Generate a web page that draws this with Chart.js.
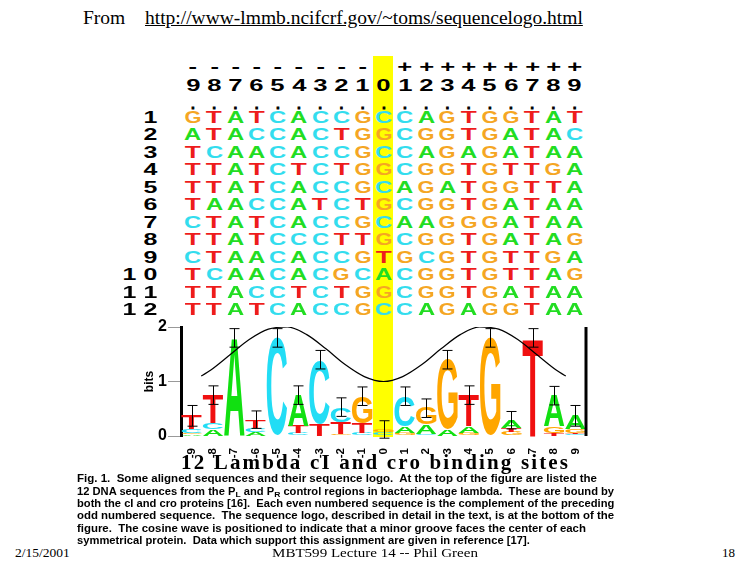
<!DOCTYPE html>
<html>
<head>
<meta charset="utf-8">
<script src="https://cdn.jsdelivr.net/npm/chart.js"></script>
<style>
  html, body { margin: 0; padding: 0; background: #fff; }
  #page { position: relative; width: 750px; height: 562px; overflow: hidden; }
  .abs { position: absolute; white-space: nowrap; }
  #band { position: absolute; left: 373px; top: 56px; width: 20px; height: 381px; background: #ffff00; }
  .cell { position: absolute; width: 21px; text-align: center; font-family: "Liberation Sans", sans-serif; font-weight: bold; }
  .cell span { display: inline-block; }
  .seq span { font-size: 15.6px; line-height: 17px; }
  .num span { font-size: 16px; line-height: 12px; }
  .dot span { font-size: 12px; line-height: 10px; -webkit-text-stroke: 1px #000; }
  .cap { font: bold 10.5px/10px "Liberation Sans", sans-serif; transform-origin: 0 0; }
  .cap .sb { position: relative; top: 2px; font-size: 8px; }
  .serif { font-family: "Liberation Serif", serif; }
  .foot { font-size: 13px; line-height: 10px; transform-origin: 0 0; }
  #wrap { position: absolute; left: 140px; top: 300px; width: 480px; height: 180px; }
</style>
</head>
<body>
<div id="page">
  <div id="band"></div>
  <div class="abs serif" style="left:83px; top:8px; font-size:19.5px; line-height:19px;">From</div>
  <div class="abs serif" style="left:145px; top:8px; font-size:19.5px; line-height:19px; text-decoration:underline;">http://www-lmmb.ncifcrf.gov/~toms/sequencelogo.html</div>
  <div id="wrap"><canvas id="logo" width="480" height="180"></canvas></div>
  <div class="abs cap" data-w="520" style="left:77px; top:473.1px;">Fig. 1.&nbsp; Some aligned sequences and their sequence logo.&nbsp; At the top of the figure are listed the</div>
  <div class="abs cap" data-w="537" style="left:77px; top:485.5px;">12 DNA sequences from the P<span class="sb">L</span> and P<span class="sb">R</span> control regions in bacteriophage lambda.&nbsp; These are bound by</div>
  <div class="abs cap" data-w="537" style="left:77px; top:497.9px;">both the cI and cro proteins [16].&nbsp; Each even numbered sequence is the complement of the preceding</div>
  <div class="abs cap" data-w="537" style="left:77px; top:510.3px;">odd numbered sequence.&nbsp; The sequence logo, described in detail in the text, is at the bottom of the</div>
  <div class="abs cap" data-w="509" style="left:77px; top:522.7px;">figure.&nbsp; The cosine wave is positioned to indicate that a minor groove faces the center of each</div>
  <div class="abs cap" data-w="453" style="left:77px; top:534.9px;">symmetrical protein.&nbsp; Data which support this assignment are given in reference [17].</div>
  <div class="abs serif foot" data-w="55" style="left:15px; top:548.1px;">2/15/2001</div>
  <div class="abs serif foot" data-w="206" style="left:272px; top:548.1px;">MBT599 Lecture 14 -- Phil Green</div>
  <div class="abs serif foot" data-w="13" style="left:722px; top:548.1px;">18</div>
</div>
<script>
const positions = ['-9','-8','-7','-6','-5','-4','-3','-2','-1','0','1','2','3','4','5','6','7','8','9'];
const sequences = [
  'GTATCACCGCCAGTGGTAT',
  'ATACCACTGGCGGTGATAC',
  'TCAACACCGCCAGAGATAA',
  'TTATCTCTGGCGGTGTTGA',
  'TTATCACCGCAGATGGTTA',
  'TAACCATCTGCGGTGATAA',
  'CTATCACCGCAAGGGATAA',
  'TTATCCCTTGCGGTGATAG',
  'CTAACACCGTGCGTGTTGA',
  'TCAACACGCACGGTGTTAG',
  'TTACCTCTGGCGGTGATAA',
  'TTATCACCGCCAGAGGTAA'
];
// letter heights in bits at each position
const bitsA = [0.03,0.12,1.80,0.07,0,   0.56,0,   0,   0,   0.01,0.12,0.17,0.12,0.12,0,   0.14,0,   0.56,0.25];
const bitsC = [0.06,0.12,0,   0.08,1.80,0.06,1.17,0.27,0.06,0.05,0.55,0.04,0,   0,   0,   0,   0,   0,   0.03];
const bitsG = [0.03,0,   0,   0,   0,   0,   0,   0.04,0.49,0.05,0.06,0.30,1.28,0.06,1.80,0.07,0,   0.12,0.06];
const bitsT = [0.25,0.51,0,   0.15,0,   0.13,0.23,0.22,0.18,0.01,0,   0,   0,   0.57,0,   0.08,1.80,0.06,0.03];
const errBits = [0.19,0.17,0.17,0.16,0.17,0.17,0.17,0.17,0.17,0.16,0.17,0.17,0.17,0.17,0.17,0.16,0.17,0.17,0.19];
// cosine wave
const wavePos = [-9.5,-9,-8,-7,-6,-5,-4,-3,-2,-1,0,1,2,3,4,5,6,7,8,9,9.5];
const waveBits = [1.10,1.21,1.49,1.77,1.96,2.0,1.86,1.60,1.31,1.09,1.0,1.09,1.31,1.60,1.86,2.0,1.96,1.77,1.49,1.21,1.10];
const logoTitle = '12 Lambda cI and cro binding sites';

const seqColor = { A: '#22dd22', C: '#33ddee', G: '#f5a623', T: '#ee1c1c' };
const logoColor = { A: '#11e011', C: '#22ddf5', G: '#ffa600', T: '#f01010' };

// --- aligned sequences (html text) ---
const page = document.getElementById('page');
const mctx = document.createElement('canvas').getContext('2d');
function inkWidth(ch, px) {
  mctx.font = 'bold ' + px + 'px "Liberation Sans"';
  const m = mctx.measureText(ch);
  return m.actualBoundingBoxLeft + m.actualBoundingBoxRight;
}
const colX = i => 193 + i * 21.2;
function cell(txt, cx, top, cls, sx, color) {
  const d = document.createElement('div');
  d.className = 'cell ' + cls;
  d.style.left = (cx - 10.5) + 'px';
  d.style.top = top + 'px';
  if (color) d.style.color = color;
  const s = document.createElement('span');
  s.textContent = txt;
  if (sx) s.style.transform = 'scaleX(' + sx + ')';
  d.appendChild(s);
  page.appendChild(d);
}
positions.forEach((p, i) => {
  const sign = p[0] === '-' ? '-' : (p === '0' ? '' : '+');
  if (sign) cell(sign, colX(i), 58.45, 'num', 1.6);
  cell(p.replace('-', ''), colX(i), 77.45, 'num', 1.6);
  cell('.', colX(i), 94.6, 'dot');
});
sequences.forEach((s, r) => {
  const top = 108.7 + 17.5 * r;
  const n = String(r + 1);
  for (let k = 0; k < n.length; k++) {
    cell(n[n.length - 1 - k], colX(-2 - k), top, 'seq', 1.6);
  }
  s.split('').forEach((ch, i) => cell(ch, colX(i), top, 'seq', 16.8 / inkWidth(ch, 15.6), seqColor[ch]));
});

// caption and footer lines fitted to their widths
document.querySelectorAll('.cap, .foot').forEach(el => {
  const w = el.offsetWidth;
  el.style.transform = 'scaleX(' + (Number(el.dataset.w) / w) + ')';
});

// --- logo ---
const letters = ['A', 'C', 'G', 'T'];
const bitsBy = { A: bitsA, C: bitsC, G: bitsG, T: bitsT };
const ranked = [[], [], [], []];
const rankedLetter = [[], [], [], []];
positions.forEach((p, i) => {
  const order = letters.slice().sort((a, b) => bitsBy[a][i] - bitsBy[b][i]);
  order.forEach((L, k) => { ranked[k].push(bitsBy[L][i]); rankedLetter[k].push(L); });
});

function drawGlyph(ctx, ch, x, y, w, h, color) {
  ctx.save();
  ctx.font = 'bold 100px "Liberation Sans"';
  ctx.textAlign = 'left';
  ctx.textBaseline = 'alphabetic';
  const m = ctx.measureText(ch);
  const gw = m.actualBoundingBoxLeft + m.actualBoundingBoxRight;
  const gh = m.actualBoundingBoxAscent + m.actualBoundingBoxDescent;
  ctx.translate(x, y);
  ctx.scale(w / gw, h / gh);
  ctx.fillStyle = color;
  ctx.fillText(ch, m.actualBoundingBoxLeft, m.actualBoundingBoxAscent);
  ctx.restore();
}

const logoPlugin = {
  id: 'logoPlugin',
  beforeDraw(chart) {
    // spread the axis title out like the original figure
    const s = chart.scales.x;
    if (s._spaced) return;
    const orig = s.drawTitle;
    s.drawTitle = function () {
      const ctx = chart.ctx;
      ctx.save();
      ctx.font = 'bold 21px "Liberation Serif"';
      const w = ctx.measureText(logoTitle).width;
      ctx.letterSpacing = ((387 - w) / (logoTitle.length - 1)) + 'px';
      orig.call(s);
      ctx.restore();
    };
    s._spaced = true;
  },
  beforeDatasetsDraw(chart) {
    const ctx = chart.ctx, xs = chart.scales.x;
    const colW = (xs.getPixelForValue(1) - xs.getPixelForValue(0)) * 0.96;
    chart.data.datasets.forEach((ds, di) => {
      if (!ds.letters) return;
      chart.getDatasetMeta(di).data.forEach((bar, i) => {
        const h = Math.abs(bar.base - bar.y);
        if (h < 0.6) return;
        const L = ds.letters[i];
        drawGlyph(ctx, L, xs.getPixelForValue(i) - colW / 2, Math.min(bar.y, bar.base), colW, h, logoColor[L]);
      });
    });
  },
  afterDatasetsDraw(chart) {
    const ctx = chart.ctx, xs = chart.scales.x, ys = chart.scales.y, a = chart.chartArea;
    ctx.save();
    ctx.strokeStyle = '#000';
    ctx.lineWidth = 1;
    positions.forEach((p, i) => {
      const total = bitsA[i] + bitsC[i] + bitsG[i] + bitsT[i];
      const x = Math.round(xs.getPixelForValue(i)) + 0.5;
      const y1 = ys.getPixelForValue(total + errBits[i]);
      const y2 = ys.getPixelForValue(total - errBits[i]);
      ctx.beginPath();
      ctx.moveTo(x, y1); ctx.lineTo(x, y2);
      ctx.moveTo(x - 5, y1); ctx.lineTo(x + 5, y1);
      ctx.moveTo(x - 5, y2); ctx.lineTo(x + 5, y2);
      ctx.stroke();
    });
    ctx.lineWidth = 3;
    ctx.beginPath();
    ctx.moveTo(a.right, a.top); ctx.lineTo(a.right, a.bottom);
    ctx.stroke();
    ctx.restore();
  }
};

const datasets = ranked.map((d, k) => ({
  type: 'bar',
  data: d,
  letters: rankedLetter[k],
  backgroundColor: 'rgba(0,0,0,0)',
  borderWidth: 0,
  barPercentage: 1,
  categoryPercentage: 0.96,
  xAxisID: 'x',
  yAxisID: 'y',
  order: 2
}));
datasets.push({
  type: 'line',
  data: wavePos.map((x, i) => ({ x: x, y: waveBits[i] })),
  xAxisID: 'xw',
  yAxisID: 'yw',
  borderColor: '#000',
  borderWidth: 1.2,
  pointRadius: 0,
  cubicInterpolationMode: 'monotone',
  fill: false,
  order: 1
});

new Chart(document.getElementById('logo'), {
  type: 'bar',
  data: { labels: positions, datasets: datasets },
  options: {
    responsive: false,
    animation: false,
    layout: { padding: { top: 27, right: 34, left: 0, bottom: 0 } },
    plugins: { legend: { display: false }, tooltip: { enabled: false } },
    scales: {
      x: {
        stacked: true,
        grid: { display: false },
        border: { display: false },
        ticks: {
          autoSkip: false, minRotation: 90, maxRotation: 90, padding: 4,
          color: '#000', font: { family: 'Liberation Sans', weight: 'bold', size: 11.5 }
        },
        title: {
          display: true, text: logoTitle, align: 'start', color: '#000',
          padding: { top: 0, bottom: 3.5 },
          font: { family: 'Liberation Serif', weight: 'bold', size: 21 }
        },
        afterFit(scale) { scale.height = 44; }
      },
      y: {
        stacked: true,
        min: 0, max: 2,
        grid: { drawOnChartArea: false, drawTicks: true, tickLength: 13, color: '#999' },
        border: { display: true, color: '#000', width: 3 },
        ticks: {
          stepSize: 1, padding: 1, color: '#000',
          font: { family: 'Liberation Sans', weight: 'bold', size: 16 }
        },
        title: {
          display: true, text: 'bits', color: '#000', padding: { top: 2, bottom: 0 },
          font: { family: 'Liberation Sans', weight: 'bold', size: 12 }
        },
        afterFit(scale) { scale.width = 41; }
      },
      xw: { type: 'linear', display: false, min: -9.5, max: 9.5 },
      yw: { type: 'linear', display: false, min: 0, max: 2 }
    }
  },
  plugins: [logoPlugin]
});
</script>
</body>
</html>
